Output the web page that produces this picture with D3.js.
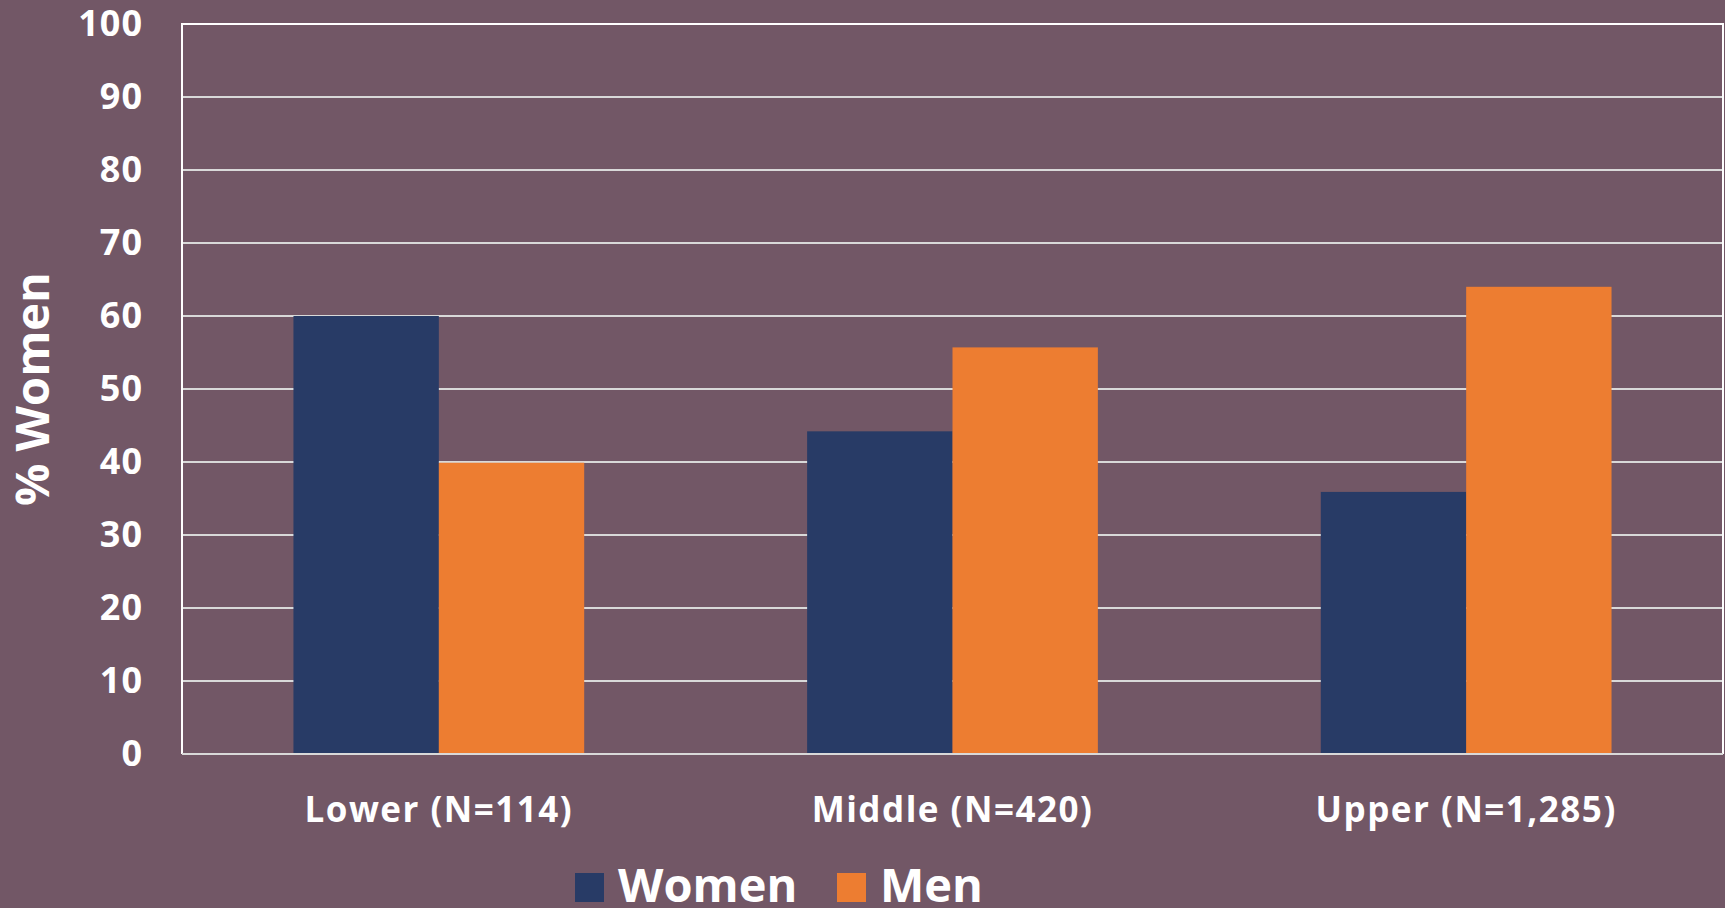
<!DOCTYPE html>
<html>
<head>
<meta charset="utf-8">
<script src="https://cdn.jsdelivr.net/npm/d3@7"></script>
<style>
  html, body { margin: 0; padding: 0; background: #725766; }
  svg { display: block; }
  text { font-family: "Open Sans", "Noto Sans", sans-serif; font-weight: bold; fill: #ffffff; }
</style>
</head>
<body>
<svg id="chart" width="1725" height="908"></svg>
<script>
const categories = ["Lower (N=114)", "Middle (N=420)", "Upper (N=1,285)"];
const seriesNames = ["Women", "Men"];
const women = [60.0, 44.2, 35.9];
const men = [39.9, 55.7, 64.0];
const yTicks = [0, 10, 20, 30, 40, 50, 60, 70, 80, 90, 100];
const yTitle = "% Women";
const colors = ["#283B66", "#ED7D31"];

const svg = d3.select("#chart");
const plot = { left: 182, right: 1723, top: 24, bottom: 754 };

const x0 = d3.scaleBand().domain(categories).range([plot.left, plot.right])
  .paddingInner(0.434).paddingOuter(0.217);
const x1 = d3.scaleBand().domain(seriesNames).range([0, x0.bandwidth()]);
const y = d3.scaleLinear().domain([0, 100]).range([plot.bottom, plot.top]);

// gridlines
svg.append("g").selectAll("line").data(yTicks.filter(d => d > 0 && d < 100)).join("line")
  .attr("x1", plot.left).attr("x2", plot.right)
  .attr("y1", d => y(d)).attr("y2", d => y(d))
  .attr("stroke", "#d9d9d9").attr("stroke-width", 2);

// bars
const rows = categories.map((c, i) => ({ cat: c, vals: [women[i], men[i]] }));
const g = svg.append("g").selectAll("g").data(rows).join("g")
  .attr("transform", d => `translate(${x0(d.cat)},0)`);
g.selectAll("rect").data(d => d.vals.map((v, j) => ({ s: seriesNames[j], v, j }))).join("rect")
  .attr("x", d => x1(d.s))
  .attr("width", x1.bandwidth())
  .attr("y", d => y(d.v))
  .attr("height", d => y(0) - y(d.v))
  .attr("fill", d => colors[d.j]);

// plot border
svg.append("path")
  .attr("d", `M${plot.left},${plot.bottom} V${plot.top} H${plot.right} V${plot.bottom}`)
  .attr("fill", "none").attr("stroke", "#ffffff").attr("stroke-width", 2);
svg.append("line")
  .attr("x1", plot.left).attr("x2", plot.right)
  .attr("y1", plot.bottom).attr("y2", plot.bottom)
  .attr("stroke", "#d9d9d9").attr("stroke-width", 2);

// y axis labels
const yAxis = d3.axisLeft(y).tickValues(yTicks).tickSize(0).tickPadding(39);
const ya = svg.append("g").attr("transform", `translate(${plot.left},0)`).call(yAxis);
ya.select(".domain").remove();
ya.selectAll("text").attr("font-size", 36).attr("fill", "#ffffff")
  .style("letter-spacing", "1px")
  .style("font-family", '"Open Sans", sans-serif').style("font-weight", "bold");

// x axis labels
const xAxis = d3.axisBottom(x0).tickSize(0).tickPadding(43);
const xa = svg.append("g").attr("transform", `translate(0,${plot.bottom})`).call(xAxis);
xa.select(".domain").remove();
xa.selectAll("text").attr("font-size", 35).attr("fill", "#ffffff")
  .style("letter-spacing", "1.5px")
  .style("font-family", '"Open Sans", sans-serif').style("font-weight", "bold");

// y title
svg.append("text")
  .attr("transform", `translate(49,${(plot.top + plot.bottom) / 2}) rotate(-90)`)
  .attr("text-anchor", "middle")
  .attr("font-size", 47)
  .text(yTitle);

// legend
const legend = svg.append("g");
const legX = [575, 837];
seriesNames.forEach((s, i) => {
  legend.append("rect").attr("x", legX[i]).attr("y", 873).attr("width", 29).attr("height", 29)
    .attr("fill", colors[i]);
  legend.append("text").attr("x", legX[i] + 43).attr("y", 902)
    .attr("font-size", 47).text(s);
});
</script>
</body>
</html>
